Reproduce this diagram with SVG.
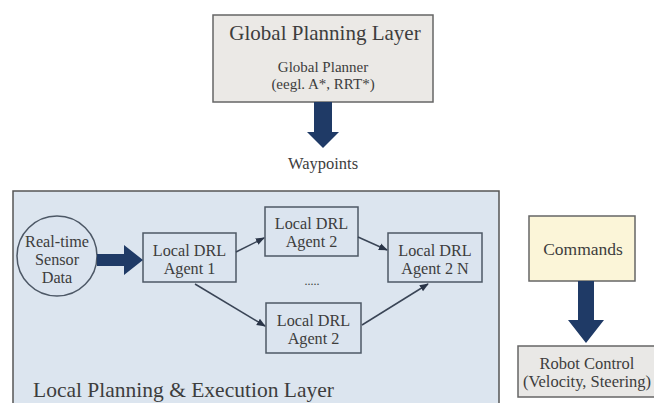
<svg xmlns="http://www.w3.org/2000/svg" width="654" height="403" viewBox="0 0 654 403">
<defs>
<style>
text{font-family:"Liberation Serif","DejaVu Serif",serif;fill:#3d3d3d;text-anchor:middle}
.agent{fill:#dbe4ef;stroke:#4d5866;stroke-width:1.5}
.thin{stroke:#3a4556;stroke-width:1.5;fill:none;marker-end:url(#ah)}
.big{fill:#1f3a66}
.s16{font-size:16.2px}
</style>
<marker id="ah" viewBox="0 0 10 10" refX="9" refY="5" markerWidth="6" markerHeight="6" orient="auto" markerUnits="strokeWidth">
<path d="M0,1 L10,5 L0,9 z" fill="#2a3548"/>
</marker>
</defs>
<rect width="654" height="403" fill="#fff"/>
<g id="global">
<rect x="213" y="15" width="220" height="87" fill="#ebe9e6" stroke="#666" stroke-width="1.5"/>
<text x="325" y="40" style="font-size:21px">Global Planning Layer</text>
<text x="323" y="72" style="font-size:15px">Global Planner</text>
<text x="323" y="89" style="font-size:15px">(eegl. A*, RRT*)</text>
</g>
<g id="waypoints-label">
<text x="323" y="169" style="font-size:16.5px">Waypoints</text>
</g>
<g id="local-layer">
<rect x="13" y="191" width="486" height="220" fill="#dce5ef" stroke="#555" stroke-width="1.5"/>
<text x="33" y="397" style="font-size:21.5px;text-anchor:start">Local Planning &amp; Execution Layer</text>
</g>
<g id="sensor">
<circle cx="57" cy="256" r="40" fill="#dbe4ef" stroke="#4d5866" stroke-width="1.5"/>
<text x="57" y="247" class="s16">Real-time</text>
<text x="57" y="265" class="s16">Sensor</text>
<text x="57" y="283" class="s16">Data</text>
</g>
<g id="agent1">
<rect class="agent" x="143" y="233" width="93" height="49"/>
<text x="189.5" y="256" class="s16">Local DRL</text>
<text x="189.5" y="274" class="s16">Agent 1</text>
</g>
<g id="agent2top">
<rect class="agent" x="265" y="207" width="93" height="49"/>
<text x="311.5" y="229" class="s16">Local DRL</text>
<text x="311.5" y="247" class="s16">Agent 2</text>
</g>
<g id="dots">
<text x="312" y="285" style="font-size:12px">.....</text>
</g>
<g id="agent2bottom">
<rect class="agent" x="266" y="303" width="95" height="50"/>
<text x="313.5" y="326" class="s16">Local DRL</text>
<text x="313.5" y="344" class="s16">Agent 2</text>
</g>
<g id="agent2n">
<rect class="agent" x="388" y="233" width="94" height="49"/>
<text x="435" y="256" class="s16">Local DRL</text>
<text x="435" y="274" class="s16">Agent 2 N</text>
</g>
<g id="commands">
<rect x="529" y="216" width="106" height="65" fill="#fbf5d8" stroke="#666" stroke-width="1.5"/>
<text x="583" y="255" style="font-size:17.5px">Commands</text>
</g>
<g id="robot">
<rect x="518" y="346" width="140" height="51" fill="#e9e8e6" stroke="#666" stroke-width="1.5"/>
<text x="587" y="369" style="font-size:16.5px">Robot Control</text>
<text x="587" y="387" style="font-size:16.5px">(Velocity, Steering)</text>
</g>
<g id="connectors">
<path class="big" d="M314,102 H332 V132 H339 L323,148 L307,132 H314 Z"/>
<path class="big" d="M97,254 H124 V245 L143,260 L124,275 V266 H97 Z"/>
<path class="big" d="M578,281 H594 V320 H604 L586,343 L568,320 H578 Z"/>
<line class="thin" x1="236" y1="252" x2="264" y2="238"/>
<line class="thin" x1="195" y1="284" x2="265" y2="326"/>
<line class="thin" x1="358" y1="237" x2="387" y2="250"/>
<line class="thin" x1="362" y1="325" x2="428" y2="284"/>
</g>
</svg>
